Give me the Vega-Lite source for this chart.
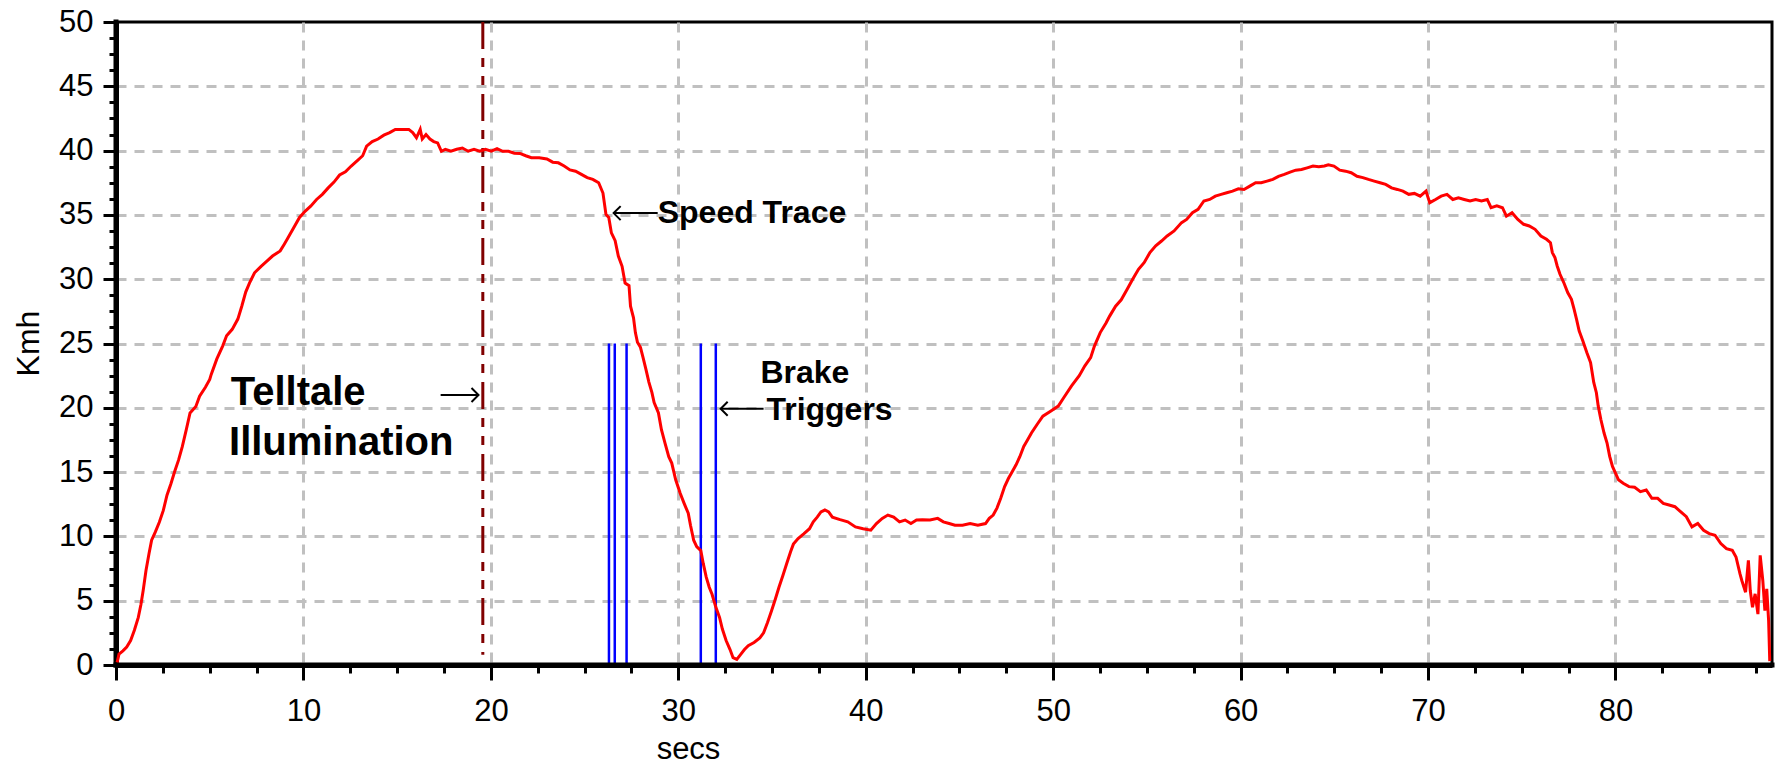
{
  "$schema": "https://vega.github.io/schema/vega-lite/v6.json",
  "width": 1656,
  "height": 643,
  "autosize": {"type": "none"},
  "padding": {"left": 116, "top": 22, "right": 3, "bottom": 101},
  "background": "#ffffff",
  "config": {
    "view": {"stroke": "#000000", "strokeWidth": 3},
    "font": "Liberation Sans"
  },
  "datasets": {
    "speed": [
      {"t":0.06,"kmh":0.2},{"t":0.16,"kmh":0.85},{"t":0.37,"kmh":1.1},{"t":0.57,"kmh":1.4},{"t":0.78,"kmh":1.9},{"t":0.98,"kmh":2.7},{"t":1.19,"kmh":3.7},{"t":1.33,"kmh":4.7},{"t":1.45,"kmh":5.8},{"t":1.6,"kmh":7.35},{"t":1.76,"kmh":8.65},{"t":1.9,"kmh":9.7},{"t":2.1,"kmh":10.35},{"t":2.31,"kmh":11.1},{"t":2.52,"kmh":12.0},{"t":2.72,"kmh":13.2},{"t":2.93,"kmh":14.1},{"t":3.13,"kmh":15.05},{"t":3.34,"kmh":15.95},{"t":3.54,"kmh":17.0},{"t":3.75,"kmh":18.3},{"t":3.95,"kmh":19.6},{"t":4.26,"kmh":20.1},{"t":4.46,"kmh":20.9},{"t":4.77,"kmh":21.6},{"t":5.0,"kmh":22.2},
      {"t":5.08,"kmh":22.6},{"t":5.38,"kmh":23.8},{"t":5.69,"kmh":24.8},{"t":5.9,"kmh":25.6},{"t":6.2,"kmh":26.1},{"t":6.5,"kmh":26.9},{"t":6.71,"kmh":27.9},{"t":6.92,"kmh":29.0},{"t":7.12,"kmh":29.7},{"t":7.39,"kmh":30.5},{"t":7.74,"kmh":31.0},{"t":8.05,"kmh":31.4},{"t":8.35,"kmh":31.8},{"t":8.76,"kmh":32.2},{"t":8.97,"kmh":32.7},{"t":9.17,"kmh":33.2},{"t":9.48,"kmh":34.0},{"t":9.79,"kmh":34.8},{"t":10.1,"kmh":35.3},{"t":10.4,"kmh":35.7},{"t":10.7,"kmh":36.2},{"t":11.01,"kmh":36.6},{"t":11.32,"kmh":37.1},{"t":11.63,"kmh":37.55},{"t":11.93,"kmh":38.1},{"t":12.24,"kmh":38.35},{"t":12.55,"kmh":38.8},{"t":12.86,"kmh":39.2},{"t":13.16,"kmh":39.6},{"t":13.37,"kmh":40.35},{"t":13.67,"kmh":40.7},{"t":13.98,"kmh":40.9},{"t":14.29,"kmh":41.2},{"t":14.6,"kmh":41.4},{"t":14.9,"kmh":41.65},{"t":15.21,"kmh":41.65},{"t":15.62,"kmh":41.65},{"t":15.83,"kmh":41.4},{"t":16.03,"kmh":41.0},{"t":16.23,"kmh":41.65},{"t":16.34,"kmh":40.9},{"t":16.54,"kmh":41.25},{"t":16.75,"kmh":40.9},{"t":16.95,"kmh":40.7},{"t":17.16,"kmh":40.6},{"t":17.36,"kmh":39.95},{"t":17.57,"kmh":40.1},{"t":17.87,"kmh":39.95},{"t":18.18,"kmh":40.1},{"t":18.48,"kmh":40.2},{"t":18.79,"kmh":39.95},{"t":19.1,"kmh":40.1},{"t":19.4,"kmh":39.95},{"t":19.71,"kmh":40.1},{"t":20.02,"kmh":39.95},{"t":20.33,"kmh":40.15},{"t":20.63,"kmh":39.95},{"t":20.94,"kmh":39.95},{"t":21.25,"kmh":39.8},{"t":21.55,"kmh":39.78},{"t":21.86,"kmh":39.6},{"t":22.16,"kmh":39.45},{"t":22.58,"kmh":39.45},{"t":22.99,"kmh":39.35},{"t":23.3,"kmh":39.1},{"t":23.6,"kmh":39.05},{"t":23.91,"kmh":38.8},{"t":24.22,"kmh":38.5},{"t":24.52,"kmh":38.4},{"t":24.83,"kmh":38.15},{"t":25.14,"kmh":37.9},{"t":25.44,"kmh":37.76},{"t":25.75,"kmh":37.5},{"t":25.98,"kmh":36.7},{"t":26.14,"kmh":35.04},{"t":26.29,"kmh":34.8},{"t":26.43,"kmh":33.6},{"t":26.63,"kmh":33.0},{"t":26.8,"kmh":31.8},{"t":27.0,"kmh":31.0},{"t":27.16,"kmh":29.7},{"t":27.37,"kmh":29.5},{"t":27.45,"kmh":27.9},{"t":27.61,"kmh":27.0},{"t":27.71,"kmh":25.85},{"t":27.82,"kmh":25.1},{"t":27.98,"kmh":24.7},{"t":28.12,"kmh":23.9},{"t":28.27,"kmh":23.0},{"t":28.43,"kmh":22.0},{"t":28.59,"kmh":21.2},{"t":28.71,"kmh":20.4},{"t":28.94,"kmh":19.6},{"t":29.1,"kmh":18.3},{"t":29.29,"kmh":17.26},{"t":29.49,"kmh":16.2},{"t":29.65,"kmh":15.7},{"t":29.86,"kmh":14.4},{"t":30.1,"kmh":13.35},{"t":30.31,"kmh":12.57},{"t":30.53,"kmh":11.8},{"t":30.65,"kmh":10.87},{"t":30.82,"kmh":9.7},{"t":30.98,"kmh":9.2},{"t":31.2,"kmh":8.9},{"t":31.33,"kmh":7.9},{"t":31.49,"kmh":6.83},{"t":31.65,"kmh":6.05},{"t":31.8,"kmh":5.5},{"t":32.0,"kmh":4.5},{"t":32.2,"kmh":3.7},{"t":32.35,"kmh":2.8},{"t":32.55,"kmh":1.9},{"t":32.76,"kmh":1.2},{"t":32.92,"kmh":0.57},{"t":33.12,"kmh":0.44},{"t":33.33,"kmh":0.83},{"t":33.53,"kmh":1.2},{"t":33.73,"kmh":1.5},{"t":34.04,"kmh":1.75},{"t":34.35,"kmh":2.1},{"t":34.55,"kmh":2.5},{"t":34.76,"kmh":3.3},{"t":34.97,"kmh":4.2},{"t":35.17,"kmh":5.1},{"t":35.37,"kmh":6.05},{"t":35.58,"kmh":6.96},{"t":35.78,"kmh":7.87},{"t":35.99,"kmh":8.8},{"t":36.14,"kmh":9.4},{"t":36.39,"kmh":9.83},{"t":36.69,"kmh":10.2},{"t":37.0,"kmh":10.6},{"t":37.2,"kmh":11.13},{"t":37.41,"kmh":11.5},{"t":37.61,"kmh":11.9},{"t":37.82,"kmh":12.05},{"t":38.02,"kmh":11.9},{"t":38.22,"kmh":11.5},{"t":38.63,"kmh":11.3},{"t":39.04,"kmh":11.13},{"t":39.45,"kmh":10.74},{"t":39.86,"kmh":10.6},{"t":40.27,"kmh":10.48},{"t":40.57,"kmh":11.0},{"t":40.88,"kmh":11.4},{"t":41.18,"kmh":11.66},{"t":41.49,"kmh":11.5},{"t":41.8,"kmh":11.13},{"t":42.1,"kmh":11.27},{"t":42.41,"kmh":11.0},{"t":42.71,"kmh":11.27},{"t":43.02,"kmh":11.3},{"t":43.43,"kmh":11.27},{"t":43.84,"kmh":11.4},{"t":44.14,"kmh":11.13},{"t":44.45,"kmh":11.0},{"t":44.76,"kmh":10.87},{"t":45.16,"kmh":10.87},{"t":45.57,"kmh":11.0},{"t":45.98,"kmh":10.87},{"t":46.39,"kmh":11.0},{"t":46.59,"kmh":11.4},{"t":46.8,"kmh":11.66},{"t":47.0,"kmh":12.2},{"t":47.2,"kmh":12.96},{"t":47.41,"kmh":13.87},{"t":47.61,"kmh":14.5},{"t":47.82,"kmh":15.05},{"t":48.02,"kmh":15.57},{"t":48.22,"kmh":16.2},{"t":48.43,"kmh":17.0},{"t":48.63,"kmh":17.5},{"t":48.84,"kmh":18.04},{"t":49.14,"kmh":18.7},{"t":49.45,"kmh":19.35},{"t":49.86,"kmh":19.74},{"t":50.27,"kmh":20.13},{"t":50.57,"kmh":20.8},{"t":50.98,"kmh":21.7},{"t":51.39,"kmh":22.5},{"t":51.69,"kmh":23.26},{"t":52.0,"kmh":23.9},{"t":52.2,"kmh":24.8},{"t":52.51,"kmh":25.85},{"t":52.82,"kmh":26.6},{"t":53.02,"kmh":27.15},{"t":53.33,"kmh":27.9},{"t":53.63,"kmh":28.4},{"t":53.94,"kmh":29.2},{"t":54.24,"kmh":30.0},{"t":54.55,"kmh":30.77},{"t":54.86,"kmh":31.3},{"t":55.16,"kmh":32.07},{"t":55.47,"kmh":32.6},{"t":55.78,"kmh":32.97},{"t":56.08,"kmh":33.36},{"t":56.45,"kmh":33.75},{"t":56.85,"kmh":34.4},{"t":57.12,"kmh":34.65},{"t":57.43,"kmh":35.17},{"t":57.73,"kmh":35.43},{"t":58.04,"kmh":36.08},{"t":58.35,"kmh":36.2},{"t":58.65,"kmh":36.46},{"t":58.96,"kmh":36.6},{"t":59.26,"kmh":36.72},{"t":59.57,"kmh":36.85},{"t":59.88,"kmh":37.03},{"t":60.18,"kmh":36.98},{"t":60.49,"kmh":37.24},{"t":60.8,"kmh":37.5},{"t":61.1,"kmh":37.5},{"t":61.41,"kmh":37.63},{"t":61.72,"kmh":37.76},{"t":62.02,"kmh":38.0},{"t":62.33,"kmh":38.15},{"t":62.64,"kmh":38.33},{"t":62.94,"kmh":38.48},{"t":63.25,"kmh":38.53},{"t":63.55,"kmh":38.66},{"t":63.86,"kmh":38.8},{"t":64.17,"kmh":38.74},{"t":64.47,"kmh":38.8},{"t":64.68,"kmh":38.9},{"t":64.98,"kmh":38.8},{"t":65.29,"kmh":38.48},{"t":65.6,"kmh":38.4},{"t":65.9,"kmh":38.28},{"t":66.21,"kmh":38.0},{"t":66.52,"kmh":37.9},{"t":66.82,"kmh":37.76},{"t":67.13,"kmh":37.63},{"t":67.44,"kmh":37.5},{"t":67.74,"kmh":37.37},{"t":68.05,"kmh":37.1},{"t":68.36,"kmh":36.98},{"t":68.66,"kmh":36.85},{"t":68.97,"kmh":36.6},{"t":69.27,"kmh":36.67},{"t":69.58,"kmh":36.46},{"t":69.89,"kmh":36.85},{"t":70.09,"kmh":35.95},{"t":70.4,"kmh":36.2},{"t":70.7,"kmh":36.46},{"t":71.01,"kmh":36.6},{"t":71.32,"kmh":36.2},{"t":71.62,"kmh":36.33},{"t":71.93,"kmh":36.2},{"t":72.24,"kmh":36.08},{"t":72.54,"kmh":36.2},{"t":72.85,"kmh":36.08},{"t":73.16,"kmh":36.2},{"t":73.36,"kmh":35.56},{"t":73.67,"kmh":35.7},{"t":73.97,"kmh":35.56},{"t":74.18,"kmh":34.9},{"t":74.48,"kmh":35.17},{"t":74.79,"kmh":34.65},{"t":75.1,"kmh":34.27},{"t":75.4,"kmh":34.14},{"t":75.71,"kmh":33.88},{"t":76.02,"kmh":33.36},{"t":76.32,"kmh":33.1},{"t":76.53,"kmh":32.84},{"t":76.63,"kmh":32.07},{"t":76.77,"kmh":31.68},{"t":76.89,"kmh":31.03},{"t":77.04,"kmh":30.38},{"t":77.24,"kmh":29.74},{"t":77.45,"kmh":28.96},{"t":77.65,"kmh":28.44},{"t":77.79,"kmh":27.67},{"t":77.92,"kmh":26.89},{"t":78.06,"kmh":25.98},{"t":78.26,"kmh":25.2},{"t":78.47,"kmh":24.3},{"t":78.67,"kmh":23.52},{"t":78.84,"kmh":21.97},{"t":78.98,"kmh":21.17},{"t":79.08,"kmh":20.13},{"t":79.22,"kmh":19.09},{"t":79.39,"kmh":18.04},{"t":79.55,"kmh":17.26},{"t":79.69,"kmh":16.22},{"t":79.84,"kmh":15.44},{"t":80.0,"kmh":14.92},{"t":80.16,"kmh":14.4},{"t":80.41,"kmh":14.13},{"t":80.72,"kmh":13.87},{"t":81.02,"kmh":13.82},{"t":81.33,"kmh":13.48},{"t":81.64,"kmh":13.61},{"t":81.94,"kmh":12.96},{"t":82.25,"kmh":12.96},{"t":82.55,"kmh":12.57},{"t":82.86,"kmh":12.44},{"t":83.17,"kmh":12.31},{"t":83.47,"kmh":11.92},{"t":83.78,"kmh":11.53},{"t":84.08,"kmh":10.74},{"t":84.39,"kmh":11.0},{"t":84.7,"kmh":10.48},{"t":85.0,"kmh":10.22},{"t":85.31,"kmh":10.09},{"t":85.62,"kmh":9.44},{"t":85.92,"kmh":9.05},{"t":86.23,"kmh":8.92},{"t":86.43,"kmh":8.4},{"t":86.64,"kmh":7.1},{"t":86.74,"kmh":6.57},{"t":86.94,"kmh":5.66},{"t":87.09,"kmh":8.14},{"t":87.19,"kmh":5.79},{"t":87.31,"kmh":4.49},{"t":87.45,"kmh":5.53},{"t":87.6,"kmh":3.96},{"t":87.72,"kmh":8.53},{"t":87.86,"kmh":6.57},{"t":87.97,"kmh":4.23},{"t":88.07,"kmh":5.92},{"t":88.17,"kmh":3.44},{"t":88.23,"kmh":0.3}
    ],
    "triggers": [{"t": 26.3}, {"t": 26.61}, {"t": 27.24}, {"t": 31.2}, {"t": 32.0}],
    "telltale": [{"t": 19.57}],
    "arrows": [
      {"x1": 17.32, "x2": 19.34, "tip": 19.34, "y": 21.0, "dir": "right"},
      {"x1": 26.55, "x2": 28.9, "tip": 26.55, "y": 35.14, "dir": "left"},
      {"x1": 32.26, "x2": 34.55, "tip": 32.26, "y": 19.92, "dir": "left"}
    ],
    "notesBig": [
      {"t": 6.12, "kmh": 20.22, "text": "Telltale"},
      {"t": 6.03, "kmh": 16.33, "text": "Illumination"}
    ],
    "notes": [
      {"t": 28.9, "kmh": 34.39, "text": "Speed Trace"},
      {"t": 34.38, "kmh": 21.95, "text": "Brake"},
      {"t": 34.7, "kmh": 19.05, "text": "Triggers"}
    ]
  },
  "layer": [
    {
      "data": {"name": "telltale"},
      "mark": {"type": "rule", "color": "#800000", "strokeWidth": 3, "strokeDash": [27, 9, 9, 9, 9, 9]},
      "encoding": {
        "x": {"field": "t", "type": "quantitative", "scale": {"domain": [0, 88.35], "nice": false, "zero": false},
              "axis": {"orient": "bottom", "values": [2.5,5,7.5,12.5,15,17.5,22.5,25,27.5,32.5,35,37.5,42.5,45,47.5,52.5,55,57.5,62.5,65,67.5,72.5,75,77.5,82.5,85,87.5], "ticks": true, "tickSize": 8, "tickWidth": 3, "tickColor": "#000000", "labels": false, "domain": false, "grid": false, "title": null}},
        "y": {"datum": 50, "type": "quantitative", "scale": {"domain": [0, 50], "nice": false, "zero": false},
              "axis": {"orient": "left", "values": [1.25,2.5,3.75,6.25,7.5,8.75,11.25,12.5,13.75,16.25,17.5,18.75,21.25,22.5,23.75,26.25,27.5,28.75,31.25,32.5,33.75,36.25,37.5,38.75,41.25,42.5,43.75,46.25,47.5,48.75], "ticks": true, "tickSize": 7, "tickWidth": 3, "tickColor": "#000000", "labels": false, "domain": false, "grid": false, "title": null}},
        "y2": {"datum": 0.8}
      }
    },
    {
      "data": {"name": "triggers"},
      "mark": {"type": "rule", "color": "#0000FF", "strokeWidth": 2.5},
      "encoding": {
        "x": {"field": "t", "type": "quantitative", "scale": {"domain": [0, 88.35], "nice": false, "zero": false},
              "axis": {"orient": "bottom", "values": [10,20,30,40,50,60,70,80], "grid": true, "gridColor": "#C0C0C0", "gridDash": [10, 8], "gridWidth": 3, "gridOpacity": 1, "ticks": false, "labels": false, "domain": false, "title": null}},
        "y": {"datum": 25, "type": "quantitative", "scale": {"domain": [0, 50], "nice": false, "zero": false},
              "axis": {"orient": "left", "values": [5,10,15,20,25,30,35,40,45], "grid": true, "gridColor": "#C0C0C0", "gridDash": [10, 8], "gridWidth": 3, "gridOpacity": 1, "ticks": false, "labels": false, "domain": false, "title": null}},
        "y2": {"datum": 0}
      }
    },
    {
      "data": {"name": "telltale"},
      "mark": {"type": "rule", "color": "#000000", "strokeWidth": 5, "strokeCap": "square"},
      "encoding": {
        "y": {"datum": 0, "type": "quantitative", "scale": {"domain": [0, 50], "nice": false, "zero": false}, "axis": null}
      }
    },
    {
      "data": {"name": "telltale"},
      "mark": {"type": "rule", "color": "#000000", "strokeWidth": 5, "strokeCap": "square"},
      "encoding": {
        "x": {"datum": 0, "type": "quantitative", "scale": {"domain": [0, 88.35], "nice": false, "zero": false}, "axis": null}
      }
    },
    {
      "data": {"name": "speed"},
      "mark": {"type": "line", "color": "#FF0000", "strokeWidth": 3},
      "encoding": {
        "x": {"field": "t", "type": "quantitative", "scale": {"domain": [0, 88.35], "nice": false, "zero": false},
              "axis": {"orient": "bottom", "values": [0,10,20,30,40,50,60,70,80], "grid": false,
                       "domain": true, "domainWidth": 5, "domainColor": "#000000", "ticks": true, "tickSize": 15, "tickWidth": 3, "tickColor": "#000000",
                       "labelFont": "Liberation Sans", "labelColor": "#000000", "labelFontSize": 31, "labelBaseline": "alphabetic", "labelPadding": 40, "labelFlush": false, "labelOverlap": false,
                       "title": "secs", "titleFont": "Liberation Sans", "titleColor": "#000000", "titleFontSize": 31, "titleFontWeight": "normal", "titleX": 572, "titleY": 93, "titleBaseline": "alphabetic", "titleAlign": "center"}},
        "y": {"field": "kmh", "type": "quantitative", "scale": {"domain": [0, 50], "nice": false, "zero": false},
              "axis": {"orient": "left", "values": [0,5,10,15,20,25,30,35,40,45,50], "grid": false,
                       "domain": true, "domainWidth": 5, "domainColor": "#000000", "ticks": true, "tickSize": 13, "tickWidth": 3, "tickColor": "#000000",
                       "labelFont": "Liberation Sans", "labelColor": "#000000", "labelFontSize": 31, "labelPadding": 10, "labelFlush": false, "labelOverlap": false,
                       "title": "Kmh", "titleFont": "Liberation Sans", "titleColor": "#000000", "titleFontSize": 32, "titleFontWeight": "normal", "titleAngle": -90, "titleX": -78, "titleY": 321, "titleBaseline": "alphabetic", "titleAlign": "center"}}
      }
    },
    {
      "data": {"name": "arrows"},
      "mark": {"type": "rule", "color": "#000000", "strokeWidth": 2},
      "encoding": {
        "x": {"field": "x1", "type": "quantitative", "scale": {"domain": [0, 88.35], "nice": false, "zero": false}, "axis": null},
        "x2": {"field": "x2"},
        "y": {"field": "y", "type": "quantitative", "scale": {"domain": [0, 50], "nice": false, "zero": false}, "axis": null}
      }
    },
    {
      "data": {"name": "arrows"},
      "mark": {"type": "point", "filled": false, "stroke": "#000000", "strokeWidth": 2, "size": 196, "opacity": 1},
      "encoding": {
        "x": {"field": "tip", "type": "quantitative", "scale": {"domain": [0, 88.35], "nice": false, "zero": false}, "axis": null},
        "y": {"field": "y", "type": "quantitative", "scale": {"domain": [0, 50], "nice": false, "zero": false}, "axis": null},
        "shape": {"field": "dir", "type": "nominal", "scale": {"domain": ["left", "right"], "range": ["M1,-1L0,0L1,1", "M-1,-1L0,0L-1,1"]}, "legend": null}
      }
    },
    {
      "data": {"name": "notesBig"},
      "mark": {"type": "text", "font": "Liberation Sans", "fontWeight": "bold", "fontSize": 40, "align": "left", "baseline": "alphabetic", "color": "#000000"},
      "encoding": {
        "x": {"field": "t", "type": "quantitative", "scale": {"domain": [0, 88.35], "nice": false, "zero": false}, "axis": null},
        "y": {"field": "kmh", "type": "quantitative", "scale": {"domain": [0, 50], "nice": false, "zero": false}, "axis": null},
        "text": {"field": "text"}
      }
    },
    {
      "data": {"name": "notes"},
      "mark": {"type": "text", "font": "Liberation Sans", "fontWeight": "bold", "fontSize": 32, "align": "left", "baseline": "alphabetic", "color": "#000000"},
      "encoding": {
        "x": {"field": "t", "type": "quantitative", "scale": {"domain": [0, 88.35], "nice": false, "zero": false}, "axis": null},
        "y": {"field": "kmh", "type": "quantitative", "scale": {"domain": [0, 50], "nice": false, "zero": false}, "axis": null},
        "text": {"field": "text"}
      }
    }
  ],
  "resolve": {"axis": {"x": "independent", "y": "independent"}}
}
